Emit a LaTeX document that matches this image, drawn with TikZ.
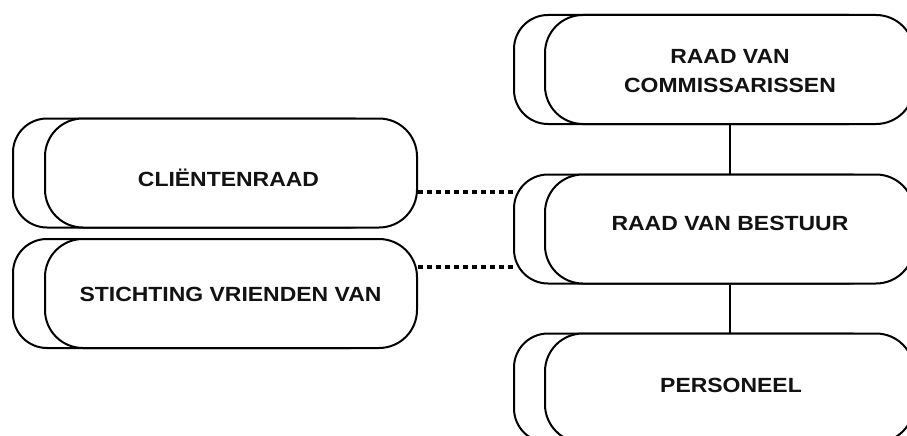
\documentclass[tikz,border=0pt]{standalone}
\usepackage{fontspec}
\newfontfamily\labfont{Liberation Sans}[FakeStretch=1.12]
\begin{document}
\begin{tikzpicture}[x=1pt,y=-1pt,
  backbox/.style={draw=black, line width=2pt, fill=white, rounded corners=34pt,
    minimum width=372pt, minimum height=109pt, inner sep=0pt},
  frontbox/.style={draw=black, line width=2pt, fill=white, rounded corners=38pt,
    minimum width=372pt, minimum height=109pt, inner sep=0pt},
  lab/.style={font=\labfont\bfseries\fontsize{20.5}{29}\selectfont, text=black!93,
    inner sep=0pt, align=center},
  solidlink/.style={draw=black, line width=2pt},
  dotlink/.style={draw=black, line width=3.6pt, dash pattern=on 4.5pt off 4.5pt}]
\useasboundingbox (0,0) rectangle (907,436);
% left column
\node[backbox] (clb) at (199,173) {};
\node[frontbox] (cl) at (231,173) {};
\node[backbox] (stb) at (199,293.5) {};
\node[frontbox] (st) at (231,293.5) {};
% right column
\node[backbox, minimum width=369pt] (rvcb) at (698.5,69.5) {};
\node[frontbox, minimum width=369pt] (rvc) at (729.5,69.5) {};
\node[backbox, minimum width=369pt] (rvbb) at (698.5,229) {};
\node[frontbox, minimum width=369pt] (rvb) at (729.5,229) {};
\node[backbox, minimum width=369pt] (peb) at (698.5,388) {};
\node[frontbox, minimum width=369pt] (pe) at (729.5,388) {};
% labels
\node[lab, anchor=base] (cltxt) at (228.5,186) {CLIËNTENRAAD};
\node[lab, anchor=base] (sttxt) at (230.5,301.5) {STICHTING VRIENDEN VAN};
\node[lab, anchor=center] (rvctxt) at (730,71.5) {RAAD VAN\\COMMISSARISSEN};
\node[lab, anchor=base] (rvbtxt) at (730,230) {RAAD VAN BESTUUR};
\node[lab, anchor=base] (petxt) at (731,392) {PERSONEEL};
% connectors
\draw[solidlink] (rvc.south -| 730,0) -- (rvb.north -| 730,0);
\draw[solidlink] (rvb.south -| 730,0) -- (pe.north -| 730,0);
\draw[dotlink] (cl.east |- 0,192) -- (rvbb.west |- 0,192);
\draw[dotlink] (st.east |- 0,267) -- (rvbb.west |- 0,267);
\end{tikzpicture}
\end{document}
